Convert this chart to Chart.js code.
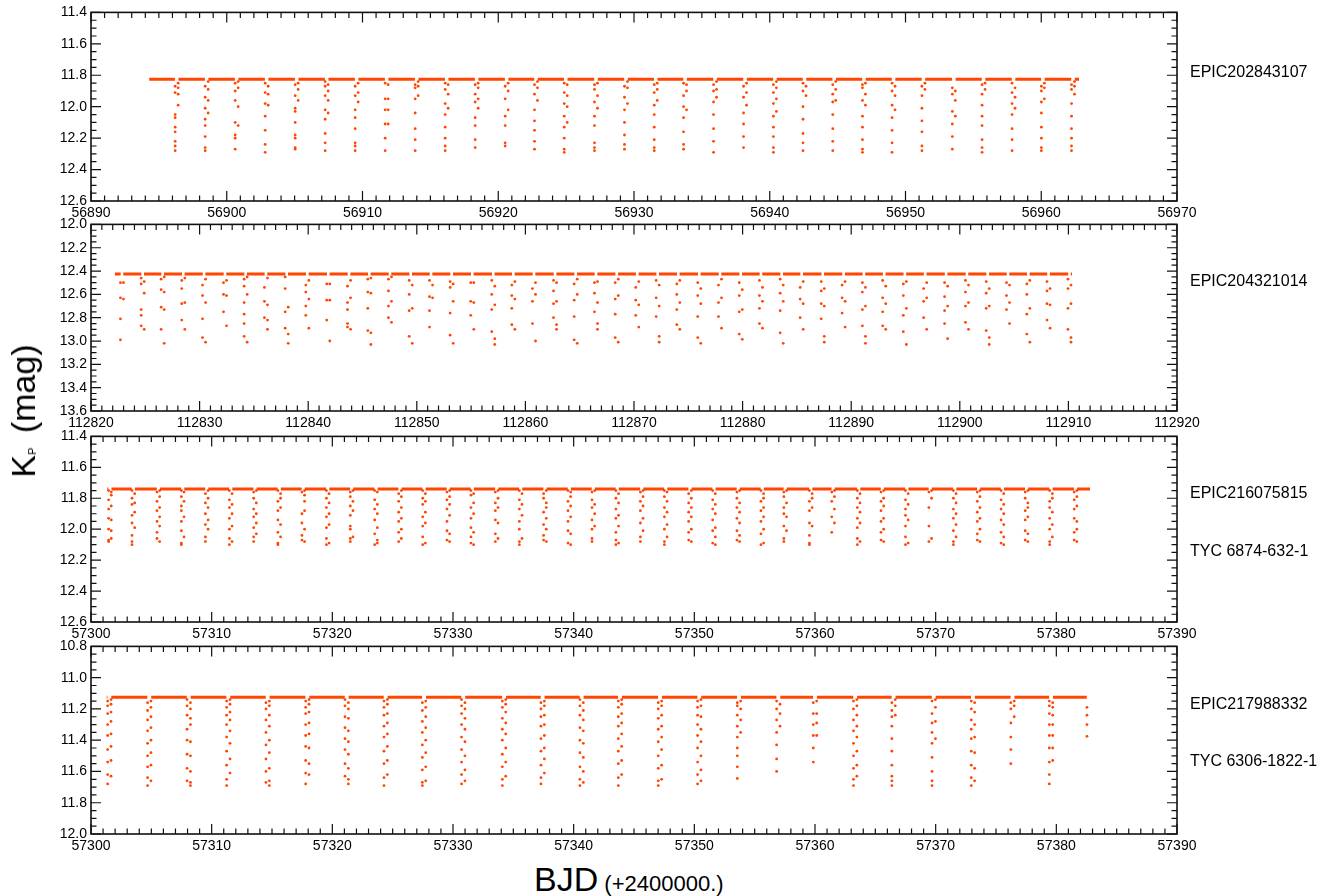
<!DOCTYPE html>
<html><head><meta charset="utf-8">
<script src="https://cdn.jsdelivr.net/npm/chart.js@4.4.1/dist/chart.umd.min.js"></script>
<style>
html,body{margin:0;padding:0;background:#fff;}
#wrap{position:relative;width:1330px;height:896px;overflow:hidden;font-family:"Liberation Sans",Arial,Helvetica,sans-serif;color:#000;background:#fff;}
canvas{position:absolute;left:0;}
.lab{position:absolute;left:1190px;font-size:16px;line-height:16px;white-space:nowrap;}
#ytitle{position:absolute;left:23px;top:411px;transform:translate(-50%,-50%) rotate(-90deg);font-size:34px;line-height:34px;white-space:nowrap;}
#ytitle .sub{font-size:11px;line-height:11px;vertical-align:-1px;margin-right:5px;}
#xtitle{position:absolute;left:534px;top:862px;font-size:34px;line-height:34px;white-space:nowrap;}
#xtitle .small{font-size:22px;}
</style></head><body>
<div id="wrap">
<canvas id="c1"></canvas><canvas id="c2"></canvas><canvas id="c3"></canvas><canvas id="c4"></canvas>
<div class="lab" style="top:64px">EPIC202843107</div>
<div class="lab" style="top:273px">EPIC204321014</div>
<div class="lab" style="top:485px">EPIC216075815</div>
<div class="lab" style="top:543px">TYC 6874-632-1</div>
<div class="lab" style="top:696px">EPIC217988332</div>
<div class="lab" style="top:753px">TYC 6306-1822-1</div>
<div id="ytitle">K<span class="sub">P</span> (mag)</div>
<div id="xtitle">BJD<span class="small"> (+2400000.)</span></div>
</div>
<script>
// ---------------- DATA ----------------
// Panel 1: EPIC202843107
const p1Start = 56894.29, p1End = 56962.78, p1Base = 11.826;
const p1Times = [56896.31,56898.52,56900.73,56902.94,56905.15,56907.36,56909.57,56911.78,56913.99,56916.20,56918.41,56920.62,56922.78,56924.97,56927.20,56929.41,56931.60,56933.76,56935.97,56938.18,56940.38,56942.56,56944.75,56946.94,56949.12,56951.32,56953.56,56955.75,56957.96,56960.12,56962.34];
const p1In = [
[11.87,11.91,12.05,12.07,12.13,12.16,12.22,12.25,12.28],[11.87,11.94,12.01,12.08,12.12,12.19,12.26,12.28],[11.85,11.90,11.96,12.10,12.18,12.20,12.27],[11.85,11.91,11.98,12.06,12.15,12.24,12.29],
[11.86,11.93,12.01,12.03,12.10,12.18,12.20,12.26,12.27],[11.84,11.87,11.93,12.02,12.08,12.17,12.23,12.28],[11.87,11.93,12.02,12.07,12.14,12.23,12.25,12.28],[11.85,11.95,12.02,12.11,12.20,12.28],
[11.86,11.88,11.95,12.04,12.14,12.21,12.28],[11.85,11.89,11.98,12.05,12.13,12.20,12.25,12.28],[11.86,11.92,11.97,12.07,12.12,12.21,12.26],[11.87,11.95,12.06,12.12,12.23,12.25],
[11.86,11.92,12.02,12.09,12.15,12.22,12.27],[11.85,11.91,11.98,12.06,12.13,12.20,12.27,12.29],[11.86,11.89,11.97,12.06,12.12,12.23,12.26,12.28],[11.87,11.94,12.02,12.10,12.18,12.24,12.27],
[11.86,11.91,11.99,12.05,12.13,12.21,12.26,12.28],[11.85,11.93,12.00,12.07,12.16,12.24,12.27],[11.86,11.90,11.97,12.05,12.14,12.22,12.29],[11.87,11.94,12.04,12.11,12.19,12.26],
[11.86,11.91,11.98,12.06,12.13,12.19,12.26,12.29],[11.85,11.90,12.00,12.08,12.17,12.23,12.28],[11.86,11.92,11.97,12.05,12.14,12.22,12.28],[11.86,11.88,11.96,12.06,12.13,12.21,12.27,12.29],
[11.85,11.90,11.99,12.07,12.15,12.23,12.29],[11.87,11.93,12.01,12.09,12.16,12.25,12.28],[11.88,11.92,12.03,12.11,12.19,12.27],[11.86,11.92,11.99,12.06,12.12,12.21,12.26,12.29],
[11.85,11.91,11.98,12.05,12.14,12.21,12.28],[11.87,11.90,11.97,12.04,12.13,12.20,12.26,12.28],[11.86,11.89,11.98,12.06,12.14,12.20,12.25,12.28]];
const p1Out = [
[11.85,11.88,11.92,11.99],[11.84,11.89,11.96,12.04],[11.84,11.88,12.00,12.12],[11.87,11.92,11.99],
[11.85,11.89,11.96],[11.86,11.90,11.96,12.04],[11.85,11.91,11.97],[11.86,11.95,12.02,12.11],
[11.84,11.87,11.93],[11.86,11.92,12.01],[11.85,11.88,11.95,12.01],[11.85,11.90,12.02],
[11.84,11.88,11.96],[11.86,11.93,12.00,12.10],[11.85,11.93,12.01],[11.84,11.88,11.98],
[11.85,11.89,11.96],[11.86,11.90,12.02],[11.84,11.89,11.94],[11.85,11.91,11.99],
[11.84,11.88,11.95,12.03],[11.87,11.93],[11.84,11.89,11.96],[11.85,11.92,11.99],
[11.87,11.93,12.02],[11.85,11.89],[11.90,11.96,12.06],[11.85,11.89],
[11.88,11.94,12.01],[11.85,11.88,11.95],[11.84,11.87,11.92]];

// Panel 2: EPIC204321014
const p2Start = 112822.2, p2End = 112910.33, p2Base = 12.425;
const p2Times = [112822.85,112824.76,112826.60,112828.50,112830.41,112832.34,112834.24,112836.11,112838.02,112839.92,112841.85,112843.76,112845.63,112847.53,112849.44,112851.31,112853.21,112855.11,112857.04,112858.89,112860.79,112862.73,112864.63,112866.50,112868.41,112870.30,112872.18,112874.08,112876.01,112877.92,112879.83,112881.69,112883.60,112885.44,112887.38,112889.30,112891.17,112893.04,112894.94,112896.81,112898.74,112900.66,112902.57,112904.44,112906.31,112908.17,112910.10];
const p2In = [
[12.50,12.63,12.81,12.99],[12.46,12.51,12.73,12.78,12.87],[12.47,12.56,12.71,12.90],[12.48,12.55,12.68,12.82],[12.52,12.61,12.81,12.97],[12.50,12.60,12.75],
[12.47,12.53,12.67,12.77,12.85,12.96],[12.54,12.66,12.80],[12.45,12.55,12.75,12.89],[12.52,12.58,12.70,12.78],[12.51,12.65,12.82],[12.53,12.67,12.73,12.85,12.88],
[12.47,12.58,12.72,12.91],[12.47,12.57,12.70,12.80],[12.48,12.60,12.74,12.96],[12.48,12.62,12.74,12.88],[12.49,12.54,12.76,12.95],[12.50,12.66,12.78],
[12.48,12.60,12.73,12.92],[12.52,12.61,12.72,12.86],[12.55,12.66,12.85],[12.48,12.57,12.68,12.80],[12.51,12.65,12.79,12.99],[12.50,12.59,12.75],
[12.50,12.64,12.77,12.97],[12.54,12.65,12.78],[12.48,12.63,12.79],[12.51,12.60,12.73,12.86],[12.50,12.61,12.79,12.97],[12.52,12.67,12.79],
[12.50,12.61,12.75,12.94],[12.48,12.61,12.72,12.85],[12.47,12.59,12.74,12.93],[12.54,12.64,12.80],[12.49,12.57,12.68,12.81],[12.52,12.63,12.76],
[12.50,12.58,12.73,12.87],[12.48,12.63,12.75,12.87],[12.51,12.61,12.78,12.92],[12.55,12.66,12.80],[12.50,12.62,12.74,12.85],[12.48,12.58,12.70,12.84],
[12.49,12.59,12.72,12.91],[12.50,12.61,12.73],[12.51,12.60,12.77,12.94],[12.49,12.57,12.68,12.82],[12.47,12.55,12.72,12.90]];
const p2Out = [
[12.50,12.64],[12.49,12.59,12.90],[12.45,12.58,12.73,13.02],[12.46,12.67,12.90],[12.47,12.67,13.01],[12.48,12.61,12.87],
[12.45,12.60,13.01],[12.46,12.69,12.82,12.90],[12.71,12.94,13.02],[12.48,12.64,12.89],[12.51,12.65,13.00],[12.48,12.63,12.90],
[12.46,12.59,12.93,13.03],[12.45,12.66,12.84],[12.52,12.72,13.02],[12.52,12.63],[12.51,12.66,13.02],[12.50,12.67,12.90],
[12.53,12.69,12.98,13.03],[12.49,12.64,12.90],[12.50,12.60,13.00],[12.50,12.66,12.86,12.90],[12.47,12.60,13.02],[12.49,12.67,12.85,12.90],
[12.47,12.61,13.01],[12.49,12.69,12.88],[12.52,12.70,12.96,13.01],[12.48,12.67,12.90],[12.55,12.68,13.02],[12.47,12.63,12.89],
[12.56,12.73,12.985],[12.54,12.66,12.89],[12.52,12.66,13.02],[12.49,12.68,12.90],[12.55,12.70,12.96,13.01],[12.49,12.66,12.88],
[12.54,12.70,12.96,13.02],[12.53,12.68,12.90],[12.49,12.72,13.03],[12.50,12.63,12.90],[12.53,12.70,12.98],[12.52,12.67,12.90],
[12.55,12.70,12.97,13.03],[12.52,12.67,12.85],[12.48,12.72,13.01],[12.55,12.69,12.89],[12.52,12.68,12.97,13.01]];

// Panel 3: EPIC216075815 / TYC 6874-632-1
const p3Start = 57301.35, p3End = 57382.79, p3Base = 11.74;
const p3Times = [57301.57,57303.51,57305.58,57307.60,57309.59,57311.58,57313.59,57315.60,57317.59,57319.62,57321.60,57323.62,57325.61,57327.60,57329.61,57331.60,57333.62,57335.61,57337.62,57339.64,57341.63,57343.61,57345.64,57347.63,57349.64,57351.63,57353.64,57355.63,57357.53,57359.65,57361.50,57363.62,57365.58,57367.61,57369.55,57371.58,57373.56,57375.53,57377.53,57379.56,57381.59];
const p3In = [
[11.75,11.81,11.87,11.93,12.00,12.07,12.08],[11.75,11.80,11.84,11.91,11.96,12.04,12.08,12.10],[11.76,11.82,11.88,11.95,12.02,12.06],[11.75,11.79,11.85,11.88,11.95,12.01,12.09,12.10],
[11.77,11.83,11.90,11.97,12.05,12.08],[11.75,11.81,11.86,11.93,12.00,12.06,12.10],[11.76,11.80,11.87,11.92,11.99,12.05,12.08],[11.75,11.82,11.88,11.94,12.02,12.09,12.10],
[11.76,11.90,11.96,12.04,12.07],[11.75,11.80,11.86,11.92,11.99,12.06,12.10],[11.76,11.79,11.85,11.91,11.98,12.00,12.06,12.08],[11.75,11.81,11.87,11.94,12.03,12.10],
[11.77,11.82,11.89,11.95,12.02,12.08],[11.75,11.80,11.84,11.92,11.98,12.05,12.10],[11.76,11.81,11.87,11.95,12.01,12.07],[11.75,11.78,11.86,11.93,11.99,12.05,12.09],
[11.76,11.83,11.88,11.94,12.03,12.08],[11.75,11.81,11.87,11.95,12.00,12.08,12.10],[11.77,11.80,11.89,11.97,12.04,12.07],[11.75,11.82,11.88,11.95,12.01,12.09],
[11.76,11.81,11.86,11.94,12.00,12.06,12.08],[11.75,11.80,11.87,11.93,12.02,12.07,12.10],[11.76,11.82,11.88,11.96,12.05,12.08],[11.75,11.79,11.86,11.92,12.00,12.08,12.10],
[11.77,11.83,11.89,11.95,12.02,12.07],[11.75,11.81,11.87,11.94,12.01,12.09],[11.76,11.80,11.86,11.93,12.01,12.07],[11.75,11.82,11.88,11.95,12.03,12.10],
[11.76,11.79,11.86,11.90,11.98,12.06,12.08],[11.75,11.82,11.88,11.96,12.04,12.09,12.10],[11.76,11.82,11.92,12.02],[11.75,11.80,11.86,11.93,11.99,12.06,12.10],
[11.76,11.82,11.88,11.95,12.02,12.07],[11.75,11.81,11.87,11.91,11.98,12.05,12.10],[11.76,11.86,11.98,12.08],[11.75,11.80,11.87,11.93,12.01,12.08,12.10],
[11.76,11.82,11.89,11.95,12.03,12.07],[11.75,11.81,11.87,11.94,12.02,12.09],[11.76,11.80,11.88,11.94,12.01,12.07],[11.75,11.82,11.86,11.93,12.00,12.08,12.10],
[11.76,11.81,11.87,11.93,12.02,12.07]];
const p3Out = [
[11.76,11.78,11.85,11.94,12.01,12.06],[11.77,11.83,11.89,11.99],[11.75,11.79,11.86,11.92,11.98,12.08],[11.76,11.82,11.92,12.05],
[11.75,11.80,11.86,11.94,12.00],[11.77,11.84,11.90,11.98,12.08],[11.75,11.83,11.90,11.96,12.03],[11.77,11.80,11.86,11.97,12.05],
[11.75,11.78,11.82,11.88,12.00,12.08],[11.77,11.83,11.90,11.97,12.09],[11.75,11.82,11.88,12.05],[11.76,11.84,11.90,11.99,12.07,12.09],
[11.75,11.79,11.86,11.93,12.00,12.06],[11.77,11.82,11.89,11.96,12.09],[11.75,11.79,11.84,11.91,12.03,12.08],[11.77,11.83,11.90,12.02,12.10],
[11.75,11.80,11.86,11.96,12.06],[11.77,11.84,11.91,12.06],[11.75,11.83,11.86,11.93,12.00,12.08],[11.76,11.79,11.85,11.92,12.03,12.10],
[11.75,11.84,11.90,11.98],[11.77,11.83,11.91,11.98,12.09],[11.75,11.79,11.85,11.93,12.01],[11.76,11.82,11.89,11.97,12.05],
[11.75,11.80,11.86,11.92,12.00,12.08],[11.77,11.84,11.90,11.99,12.05,12.10],[11.75,11.83,11.89,11.96,12.04,12.08],[11.77,11.80,11.86,11.92,12.00,12.09],
[11.75,11.83,11.92,12.01],[11.77,11.80,11.86,11.98],[11.75,11.79,11.87,11.96],[11.77,11.83,11.89,11.96,12.08],
[11.75,11.80,11.85,11.93,12.00,12.08],[11.77,11.84,11.94,12.09],[11.75,11.80,12.06],[11.77,11.83,11.90,11.97,12.05],
[11.75,11.79,11.86,11.93,12.00,12.08],[11.77,11.84,11.90,11.97,12.05,12.10],[11.75,11.83,11.86,11.92,12.03,12.08],[11.77,11.80,11.89,11.97,12.05],
[11.75,11.79,11.85,11.95,12.00,12.08]];

// Panel 4: EPIC217988332 / TYC 6306-1822-1
const p4Start = 57301.30, p4End = 57382.74, p4Base = 11.125;
const p4Times = [57301.52,57304.83,57308.10,57311.38,57314.64,57317.93,57321.19,57324.42,57327.60,57330.85,57334.23,57337.43,57340.66,57343.84,57347.15,57350.41,57353.70,57356.96,57360.00,57363.33,57366.51,57369.84,57373.09,57376.37,57379.56,57382.68];
const p4In = [
[11.15,11.18,11.23,11.30,11.37,11.46,11.54,11.62,11.68],[11.16,11.21,11.27,11.34,11.42,11.50,11.57,11.64,11.69],[11.14,11.18,11.24,11.33,11.40,11.49,11.58,11.66],
[11.15,11.19,11.24,11.30,11.38,11.47,11.56,11.65,11.69],[11.16,11.20,11.27,11.35,11.43,11.52,11.60,11.67],[11.15,11.19,11.23,11.30,11.37,11.44,11.53,11.61,11.68],
[11.14,11.18,11.25,11.32,11.39,11.46,11.55,11.63],[11.15,11.19,11.24,11.31,11.38,11.47,11.55,11.64,11.69],[11.16,11.21,11.28,11.35,11.43,11.51,11.59,11.67,11.69],
[11.14,11.18,11.23,11.30,11.38,11.46,11.54,11.62,11.68],[11.15,11.19,11.26,11.33,11.40,11.49,11.57,11.65,11.69],[11.16,11.20,11.25,11.31,11.39,11.47,11.56,11.64,11.68],
[11.14,11.18,11.24,11.32,11.40,11.48,11.57,11.65,11.69],[11.15,11.19,11.25,11.31,11.39,11.47,11.55,11.64,11.69],[11.16,11.20,11.26,11.33,11.41,11.50,11.58,11.66,11.69],
[11.15,11.19,11.24,11.30,11.37,11.45,11.54,11.62,11.68],[11.16,11.18,11.24,11.31,11.38,11.45,11.50,11.57,11.645],[11.15,11.20,11.27,11.35,11.43,11.52,11.60],
[11.16,11.23,11.30,11.37,11.45,11.54],[11.15,11.20,11.27,11.34,11.42,11.50,11.58,11.65,11.69],[11.16,11.21,11.25,11.31,11.39,11.47,11.56,11.63,11.66,11.69],
[11.15,11.23,11.29,11.35,11.42,11.51,11.60,11.66,11.69],[11.15,11.20,11.27,11.33,11.39,11.47,11.56,11.64,11.69],[11.16,11.20,11.29,11.38,11.46,11.55],
[11.15,11.18,11.23,11.30,11.37,11.45,11.54,11.62,11.68],[11.19,11.24,11.30,11.375]];
const p4Out = [
[11.14,11.17,11.22,11.28,11.36,11.44,11.53,11.63],[11.15,11.19,11.25,11.32,11.40,11.48,11.56,11.66],[11.16,11.20,11.26,11.30,11.41,11.50,11.60,11.67,11.69],
[11.14,11.17,11.22,11.27,11.34,11.42,11.52,11.61],[11.15,11.18,11.24,11.31,11.40,11.48,11.58,11.66,11.69],[11.14,11.17,11.22,11.29,11.36,11.45,11.55,11.62],
[11.16,11.20,11.26,11.34,11.41,11.49,11.58,11.65,11.68],[11.14,11.17,11.23,11.29,11.36,11.44,11.53,11.62],[11.15,11.19,11.25,11.32,11.40,11.48,11.57,11.66],
[11.16,11.20,11.26,11.33,11.41,11.50,11.59,11.66],[11.14,11.17,11.22,11.29,11.36,11.45,11.54,11.63],[11.15,11.18,11.24,11.30,11.37,11.45,11.52,11.61],
[11.16,11.21,11.27,11.34,11.42,11.51,11.60,11.67],[11.14,11.17,11.23,11.29,11.36,11.44,11.53,11.62],[11.15,11.18,11.24,11.31,11.38,11.46,11.56,11.65],
[11.14,11.18,11.25,11.33,11.41,11.50,11.59,11.66],[11.15,11.20,11.27,11.35],[11.17,11.23,11.31],
[11.15,11.23,11.29,11.37],[11.14,11.18,11.24,11.31,11.38,11.47,11.56,11.63],[11.14,11.18,11.24],
[11.14,11.19,11.28,11.39],[11.16,11.22,11.30,11.38,11.48,11.58,11.66],[11.15,11.18,11.25],
[11.16,11.19,11.24,11.30,11.37,11.45,11.53],[]];

// ---------------- CHARTS ----------------
const COLOR = 'rgb(255,69,0)';
const FONT = '"Liberation Sans", Arial, Helvetica, sans-serif';
Chart.defaults.font.family = FONT;

const panels = [
  {id:'c1', xMin:56890, xMax:56970, yMin:11.4, yMax:12.6, top:9, bottom:201, start:p1Start, end:p1End, base:p1Base, times:p1Times, inn:p1In, out:p1Out, w:0.11, gap:0.13},
  {id:'c2', xMin:112820, xMax:112920, yMin:12.0, yMax:13.6, top:221, bottom:411, start:p2Start, end:p2End, base:p2Base, times:p2Times, inn:p2In, out:p2Out, w:0.14, gap:0.12},
  {id:'c3', xMin:57300, xMax:57390, yMin:11.4, yMax:12.6, top:433, bottom:622, start:p3Start, end:p3End, base:p3Base, times:p3Times, inn:p3In, out:p3Out, w:0.11, gap:0.13},
  {id:'c4', xMin:57300, xMax:57390, yMin:10.8, yMax:12.0, top:643, bottom:834, start:p4Start, end:p4End, base:p4Base, times:p4Times, inn:p4In, out:p4Out, w:0.14, gap:0.16}
];

const PAD_TOP = 9, XAX_H = 26, YAX_W = 60, PLOT_L = 91, PLOT_R = 1177, W = 1330;

const idlAxes = {
  id: 'idlAxes',
  afterDatasetsDraw(chart) {
    const {ctx, chartArea: a, scales: {x, y}} = chart;
    const o = chart.options.scales;
    ctx.save();
    ctx.strokeStyle = '#111';
    ctx.lineWidth = 1.2;
    ctx.beginPath();
    const nx = Math.round(o.x.max - o.x.min);
    for (let i = 0; i <= nx; i++) {
      const px = x.getPixelForValue(o.x.min + i);
      const L = (i % 10 === 0) ? 10 : 5.5;
      ctx.moveTo(px, a.bottom); ctx.lineTo(px, a.bottom - L);
      ctx.moveTo(px, a.top); ctx.lineTo(px, a.top + L);
    }
    const ny = Math.round((o.y.max - o.y.min) / 0.05);
    for (let i = 0; i <= ny; i++) {
      const py = y.getPixelForValue(o.y.min + i * 0.05);
      const L = (i % 4 === 0) ? 10 : 5.5;
      ctx.moveTo(a.left, py); ctx.lineTo(a.left + L, py);
      ctx.moveTo(a.right, py); ctx.lineTo(a.right - L, py);
    }
    ctx.stroke();
    ctx.lineWidth = 1.6;
    ctx.strokeRect(a.left, a.top, a.right - a.left, a.bottom - a.top);
    ctx.restore();
  }
};

function baselinePoints(p) {
  const pts = [];
  let prev = p.start;
  p.times.forEach(t => {
    const e = Math.min(t - p.gap, p.end);
    if (e > prev) pts.push({x: prev, y: p.base}, {x: e, y: p.base}, {x: e, y: null});
    prev = Math.max(prev, t + p.gap);
  });
  if (p.end > prev) pts.push({x: prev, y: p.base}, {x: p.end, y: p.base});
  return pts;
}
function dipPoints(p) {
  const pts = [];
  p.times.forEach((t, i) => {
    p.inn[i].forEach(m => pts.push({x: t - p.w, y: m}));
    p.out[i].forEach(m => pts.push({x: t + p.w, y: m}));
  });
  return pts;
}

panels.forEach(p => {
  const cv = document.getElementById(p.id);
  const h = (p.bottom - p.top) + PAD_TOP + XAX_H;
  cv.width = W; cv.height = h;
  cv.style.width = W + 'px'; cv.style.height = h + 'px';
  cv.style.top = (p.top - PAD_TOP) + 'px';
  new Chart(cv.getContext('2d'), {
    type: 'scatter',
    data: {
      datasets: [
        {data: baselinePoints(p), showLine: true, spanGaps: false, borderColor: COLOR, borderWidth: 3, pointRadius: 0, tension: 0},
        {data: dipPoints(p), showLine: false, backgroundColor: COLOR, borderWidth: 0, pointRadius: 1.4, pointStyle: 'circle'}
      ]
    },
    options: {
      responsive: false, animation: false, devicePixelRatio: 1,
      events: [],
      layout: {padding: {left: PLOT_L - YAX_W, right: W - PLOT_R, top: PAD_TOP, bottom: 0}},
      plugins: {legend: {display: false}, tooltip: {enabled: false}},
      scales: {
        x: {
          type: 'linear', position: 'bottom', min: p.xMin, max: p.xMax,
          grid: {display: false, drawTicks: false, tickLength: 0}, border: {display: false},
          ticks: {stepSize: 10, autoSkip: false, maxRotation: 0, minRotation: 0, padding: 4, color: '#000',
                  font: {size: 14, family: FONT}, callback: v => String(Math.round(v))},
          afterFit: s => { s.height = XAX_H; }
        },
        y: {
          type: 'linear', position: 'left', reverse: true, min: p.yMin, max: p.yMax,
          grid: {display: false, drawTicks: false, tickLength: 0}, border: {display: false},
          ticks: {stepSize: 0.2, autoSkip: false, padding: 4, color: '#000',
                  font: {size: 14, family: FONT}, callback: v => Number(v).toFixed(1)},
          afterFit: s => { s.width = YAX_W; }
        }
      }
    },
    plugins: [idlAxes]
  });
});
</script>
</body></html>
